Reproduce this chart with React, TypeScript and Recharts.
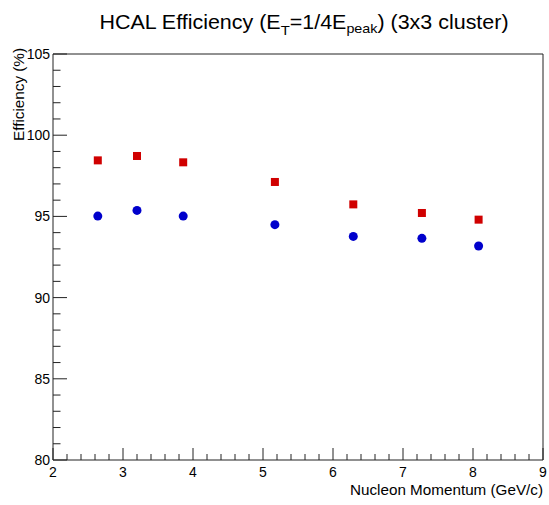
import {
  ReferenceArea,
  Scatter,
  ScatterChart,
  XAxis,
  YAxis,
} from "recharts";

const momentum = [2.64, 3.2, 3.86, 5.17, 6.29, 7.27, 8.08];
const effRed = [98.45, 98.72, 98.33, 97.12, 95.74, 95.21, 94.8];
const effBlue = [95.02, 95.37, 95.02, 94.49, 93.77, 93.65, 93.18];

const xMajor = [2, 3, 4, 5, 6, 7, 8, 9];
const yMajor = [80, 85, 90, 95, 100, 105];

// ROOT style: 5 minor divisions between majors
const xTicks: number[] = [];
for (let i = 0; i < xMajor.length - 1; i++) {
  for (let k = 0; k < 5; k++) xTicks.push(+(xMajor[i] + k * 0.2).toFixed(2));
}
xTicks.push(xMajor[xMajor.length - 1]);
const yTicks: number[] = [];
for (let i = 0; i < yMajor.length - 1; i++) {
  for (let k = 0; k < 5; k++) yTicks.push(yMajor[i] + k);
}
yTicks.push(yMajor[yMajor.length - 1]);

const redData = momentum.map((x, i) => ({ x, y: effRed[i] }));
const blueData = momentum.map((x, i) => ({ x, y: effBlue[i] }));

const FONT = "'Liberation Sans', Arial, Helvetica, sans-serif";
const RED = "#d00000";
const BLUE = "#0000cc";

const XTick = (props: any) => {
  const { x, y, payload } = props;
  const v = payload.value;
  const major = xMajor.includes(v);
  return (
    <g>
      <line x1={x} y1={y} x2={x} y2={y - (major ? 12 : 6)} stroke="#222" strokeWidth={1} />
      {major && (
        <text x={x} y={y + 17} textAnchor="middle" fontSize={14} fill="#000" fontFamily={FONT}>
          {v}
        </text>
      )}
    </g>
  );
};

const YTick = (props: any) => {
  const { x, y, payload } = props;
  const v = payload.value;
  const major = yMajor.includes(v);
  return (
    <g>
      <line x1={x} y1={y} x2={x + (major ? 14 : 7.5)} y2={y} stroke="#222" strokeWidth={1} />
      {major && (
        <text x={x - 3} y={y + 5} textAnchor="end" fontSize={14} fill="#000" fontFamily={FONT}>
          {v}
        </text>
      )}
    </g>
  );
};

const Square = (props: any) => (
  <rect x={props.cx - 4} y={props.cy - 4} width={8} height={8} fill={RED} />
);
const Dot = (props: any) => <circle cx={props.cx} cy={props.cy} r={4.5} fill={BLUE} />;

const XTitle = () => (
  <text
    x={543}
    y={495}
    textAnchor="end"
    fontSize={14}
    fill="#000"
    fontFamily={FONT}
    textLength={193}
    lengthAdjust="spacingAndGlyphs"
  >
    Nucleon Momentum (GeV/c)
  </text>
);

const YTitle = () => (
  <text
    x={24}
    y={48}
    transform="rotate(-90, 24, 48)"
    textAnchor="end"
    fontSize={15}
    fill="#000"
    fontFamily={FONT}
    textLength={93}
    lengthAdjust="spacingAndGlyphs"
  >
    Efficiency (%)
  </text>
);

export default function App() {
  return (
    <div style={{ position: "absolute", left: 0, top: 0, width: 549, height: 505, background: "#fff" }}>
      <div
        style={{
          position: "absolute",
          left: 59,
          top: 13,
          width: 490,
          textAlign: "center",
          fontFamily: FONT,
          fontSize: 19.5,
          lineHeight: "19px",
          color: "#000",
          whiteSpace: "nowrap",
          transform: "scaleX(1.1)",
          transformOrigin: "center",
        }}
      >
        HCAL Efficiency (E
        <span style={{ fontSize: 13.5, position: "relative", top: 6 }}>T</span>
        =1/4E
        <span style={{ fontSize: 13, position: "relative", top: 4 }}>peak</span>) (3x3 cluster)
      </div>
      <ScatterChart width={549} height={505} margin={{ top: 54, right: 6, bottom: 0, left: 0 }}>
        <XAxis
          type="number"
          dataKey="x"
          domain={[2, 9]}
          ticks={xTicks}
          interval={0}
          tickSize={0}
          tickMargin={0}
          tick={<XTick />}
          axisLine={false}
          height={45}
          allowDataOverflow
          label={<XTitle />}
        />
        <YAxis
          type="number"
          dataKey="y"
          domain={[80, 105]}
          ticks={yTicks}
          interval={0}
          tickSize={0}
          tickMargin={0}
          tick={<YTick />}
          axisLine={false}
          width={53}
          allowDataOverflow
          label={<YTitle />}
        />
        <ReferenceArea x1={2} x2={9} y1={80} y2={105} fill="none" stroke="#222" strokeWidth={1} ifOverflow="visible" />
        <Scatter data={redData} shape={<Square />} isAnimationActive={false} />
        <Scatter data={blueData} shape={<Dot />} isAnimationActive={false} />
      </ScatterChart>
    </div>
  );
}
